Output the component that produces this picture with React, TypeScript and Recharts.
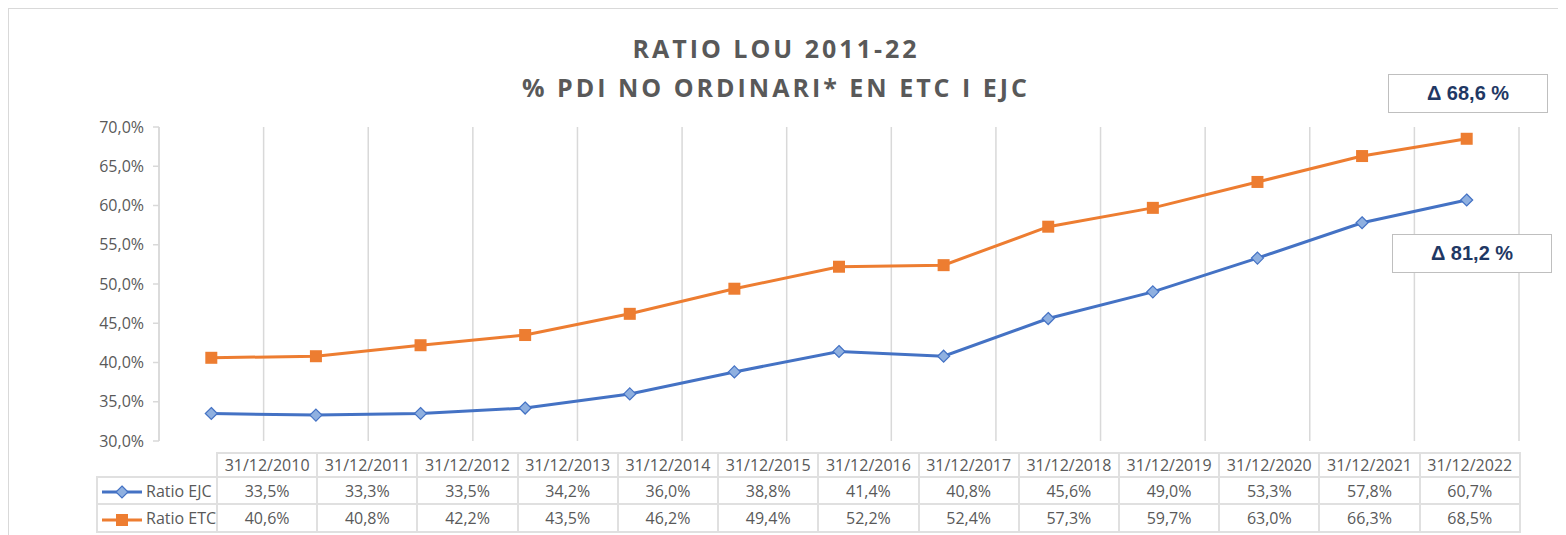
import React from "react";
import { LineChart, Line, XAxis, YAxis, CartesianGrid } from "recharts";

const dates = [
  "31/12/2010",
  "31/12/2011",
  "31/12/2012",
  "31/12/2013",
  "31/12/2014",
  "31/12/2015",
  "31/12/2016",
  "31/12/2017",
  "31/12/2018",
  "31/12/2019",
  "31/12/2020",
  "31/12/2021",
  "31/12/2022",
];
const ratioEJC = [33.5, 33.3, 33.5, 34.2, 36.0, 38.8, 41.4, 40.8, 45.6, 49.0, 53.3, 57.8, 60.7];
const ratioETC = [40.6, 40.8, 42.2, 43.5, 46.2, 49.4, 52.2, 52.4, 57.3, 59.7, 63.0, 66.3, 68.5];
const yTicks = [30, 35, 40, 45, 50, 55, 60, 65, 70];
const titleLines = ["RATIO LOU 2011-22", "% PDI NO ORDINARI* EN ETC I EJC"];
const deltaETC = "\u0394 68,6 %";
const deltaEJC = "\u0394 81,2 %";

const BLUE = "#4472c4";
const ORANGE = "#ed7d31";
const GRID = "#d9d9d9";
const TEXT = "#595959";
const FONT = "'Open Sans', sans-serif";

// numeric x so the points sit between the gridlines, like Excel
const data = dates.map((d, i) => ({
  date: d,
  pos: i + 0.5,
  ejc: ratioEJC[i],
  etc: ratioETC[i],
}));
const xTicks = dates.map((_, i) => i).concat(dates.length);

const fmt = (v: number) => `${v.toFixed(1).replace(".", ",")}%`;

const Diamond = (props: any) => {
  const { cx, cy } = props;
  if (cx == null || cy == null) return null;
  return (
    <path
      d={`M${cx},${cy - 6}L${cx + 6},${cy}L${cx},${cy + 6}L${cx - 6},${cy}Z`}
      fill="#8fb0e0"
      stroke={BLUE}
      strokeWidth={1.2}
    />
  );
};

const Square = (props: any) => {
  const { cx, cy } = props;
  if (cx == null || cy == null) return null;
  return <rect x={cx - 6} y={cy - 6} width={12} height={12} fill={ORANGE} />;
};

const LegendIcon = ({ color, shape }: { color: string; shape: "diamond" | "square" }) => (
  <svg width={40} height={14} style={{ verticalAlign: "middle", marginRight: 4 }}>
    <line x1={0} y1={7} x2={40} y2={7} stroke={color} strokeWidth={3} />
    {shape === "diamond" ? (
      <path d="M20,1L26,7L20,13L14,7Z" fill="#8fb0e0" stroke={color} strokeWidth={1.2} />
    ) : (
      <rect x={14} y={1} width={12} height={12} fill={color} />
    )}
  </svg>
);

const cell: React.CSSProperties = {
  border: `2px solid #e0e0e0`,
  textAlign: "center",
  padding: 0,
  width: 100,
};

const deltaBox: React.CSSProperties = {
  position: "absolute",
  width: 160,
  height: 39,
  boxSizing: "border-box",
  border: "1.5px solid #bfbfbf",
  background: "#fff",
  display: "flex",
  alignItems: "center",
  justifyContent: "center",
  fontFamily: "'Liberation Sans', Arial, sans-serif",
  fontWeight: 700,
  fontSize: 20,
  color: "#1f3864",
};

export default function App() {
  return (
    <div style={{ position: "relative", width: 1550, height: 527, overflow: "hidden", fontFamily: FONT }}>
      <style>{`html,body{overflow:hidden}`}</style>
      <div
        style={{
          position: "absolute",
          left: 0,
          top: 0,
          width: 1620,
          height: 620,
          border: `1px solid ${GRID}`,
        }}
      />
      <div
        style={{
          position: "absolute",
          left: 0,
          top: 21,
          width: 1536,
          textAlign: "center",
          fontSize: 25,
          fontWeight: 700,
          letterSpacing: 3,
          lineHeight: "39px",
          color: TEXT,
        }}
      >
        {titleLines.map((t) => (
          <div key={t}>{t}</div>
        ))}
      </div>

      <div style={{ position: "absolute", left: 0, top: 0 }}>
        <LineChart
          width={1550}
          height={527}
          data={data}
          margin={{ top: 119, right: 39, bottom: 94, left: 71 }}
        >
          <CartesianGrid horizontal={false} stroke={GRID} strokeWidth={1.5} />
          <XAxis
            dataKey="pos"
            type="number"
            domain={[0, dates.length]}
            ticks={xTicks}
            hide
          />
          <YAxis
            width={80}
            domain={[30, 70]}
            ticks={yTicks}
            tickFormatter={fmt}
            axisLine={{ stroke: GRID, strokeWidth: 1.5 }}
            tickLine={{ stroke: GRID, strokeWidth: 1.5 }}
            tickSize={6}
            tickMargin={9}
            tick={{ fontSize: 16, fill: TEXT, fontFamily: FONT }}
          />
          <Line
            dataKey="ejc"
            stroke={BLUE}
            strokeWidth={3}
            dot={<Diamond />}
            activeDot={false}
            isAnimationActive={false}
          />
          <Line
            dataKey="etc"
            stroke={ORANGE}
            strokeWidth={3}
            dot={<Square />}
            activeDot={false}
            isAnimationActive={false}
          />
        </LineChart>
      </div>

      <div style={{ ...deltaBox, left: 1380, top: 66 }}>{deltaETC}</div>
      <div style={{ ...deltaBox, left: 1384, top: 226 }}>{deltaEJC}</div>

      <table
        style={{
          position: "absolute",
          left: 88,
          top: 444,
          borderCollapse: "collapse",
          tableLayout: "fixed",
          width: 1423,
          fontSize: 16,
          color: TEXT,
          fontFamily: FONT,
        }}
      >
        <colgroup>
          <col style={{ width: 120 }} />
          {dates.map((d) => (
            <col key={d} style={{ width: 100.23 }} />
          ))}
        </colgroup>
        <tbody>
          <tr style={{ height: 22 }}>
            <td style={{ ...cell, borderTop: "none", borderLeft: "none" }} />
            {dates.map((d) => (
              <td key={d} style={cell}>
                {d}
              </td>
            ))}
          </tr>
          <tr style={{ height: 27 }}>
            <td style={{ ...cell, textAlign: "left", whiteSpace: "nowrap", paddingLeft: 4 }}>
              <LegendIcon color={BLUE} shape="diamond" />
              Ratio EJC
            </td>
            {ratioEJC.map((v, i) => (
              <td key={i} style={cell}>
                {fmt(v)}
              </td>
            ))}
          </tr>
          <tr style={{ height: 28 }}>
            <td style={{ ...cell, textAlign: "left", whiteSpace: "nowrap", paddingLeft: 4 }}>
              <LegendIcon color={ORANGE} shape="square" />
              Ratio ETC
            </td>
            {ratioETC.map((v, i) => (
              <td key={i} style={cell}>
                {fmt(v)}
              </td>
            ))}
          </tr>
        </tbody>
      </table>
    </div>
  );
}
